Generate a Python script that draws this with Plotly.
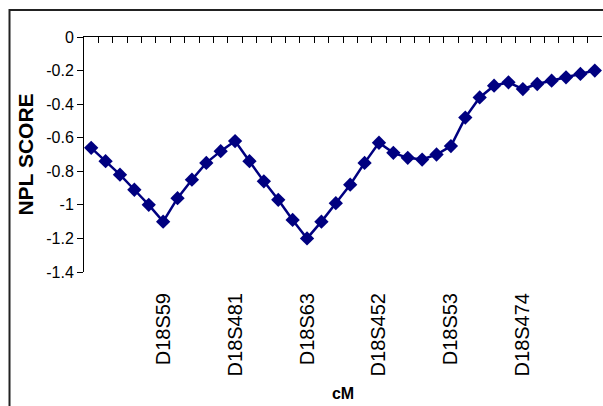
import plotly.graph_objects as go

# ---- data ----
positions = list(range(1, 37))
npl_score = [-0.66, -0.74, -0.82, -0.91, -1.00, -1.10, -0.96, -0.85, -0.75, -0.68,
             -0.62, -0.74, -0.86, -0.97, -1.09, -1.20, -1.10, -0.99, -0.88, -0.75,
             -0.63, -0.69, -0.72, -0.73, -0.70, -0.65, -0.48, -0.36, -0.29, -0.27,
             -0.31, -0.28, -0.26, -0.24, -0.22, -0.20]
marker_positions = [6, 11, 16, 21, 26, 31]
marker_names = ["D18S59", "D18S481", "D18S63", "D18S452", "D18S53", "D18S474"]
y_tick_vals = [0, -0.2, -0.4, -0.6, -0.8, -1.0, -1.2, -1.4]
y_tick_text = ["0", "-0.2", "-0.4", "-0.6", "-0.8", "-1", "-1.2", "-1.4"]
category_bounds = [p - 0.5 for p in positions] + [positions[-1] + 0.5]

FONT = "Arial, Liberation Sans, sans-serif"
NAVY = "#000080"

fig = go.Figure()
fig.add_trace(go.Scatter(
    x=positions, y=npl_score, mode="lines+markers",
    line=dict(color=NAVY, width=2.5),
    marker=dict(symbol="diamond", size=11, color=NAVY),
    showlegend=False, cliponaxis=False,
))
# invisible trace to carry the top (category) axis
fig.add_trace(go.Scatter(
    x=positions, y=npl_score, xaxis="x2", mode="markers",
    marker=dict(opacity=0), hoverinfo="skip", showlegend=False,
))

fig.update_layout(
    width=603, height=406,
    margin=dict(l=84, r=1, t=37, b=134),
    paper_bgcolor="white", plot_bgcolor="white",
    font=dict(family=FONT, color="black"),
    xaxis=dict(
        range=[0.5, 36.5], showgrid=False, zeroline=False, showline=False,
        tickmode="array", tickvals=marker_positions, ticktext=marker_names,
        tickangle=-90, ticks="", tickfont=dict(size=20, family=FONT),
        ticklabelstandoff=16,
        title=dict(text="<b>cM</b>", font=dict(size=16, family=FONT), standoff=12),
    ),
    xaxis2=dict(
        range=[0.5, 36.5], overlaying="x", side="top", anchor="y",
        showgrid=False, zeroline=False, showline=True, linecolor="black", linewidth=1,
        tickmode="array", tickvals=category_bounds, ticks="inside", ticklen=6,
        tickcolor="black", showticklabels=False,
    ),
    yaxis=dict(
        range=[-1.4, 0], showgrid=False, zeroline=False,
        showline=True, linecolor="black", linewidth=1,
        tickmode="array", tickvals=y_tick_vals, ticktext=y_tick_text,
        ticks="outside", ticklen=6, tickcolor="black",
        tickfont=dict(size=16, family=FONT),
        title=dict(text="<b>NPL SCORE</b>", font=dict(size=21, family=FONT), standoff=6),
    ),
    shapes=[dict(
        type="rect", xref="paper", yref="paper",
        x0=-0.1438, x1=1.2, y0=-1.0, y1=1.115,
        line=dict(color="#222222", width=2), fillcolor="rgba(0,0,0,0)", layer="below",
    )],
)

fig.write_html("out.html")
